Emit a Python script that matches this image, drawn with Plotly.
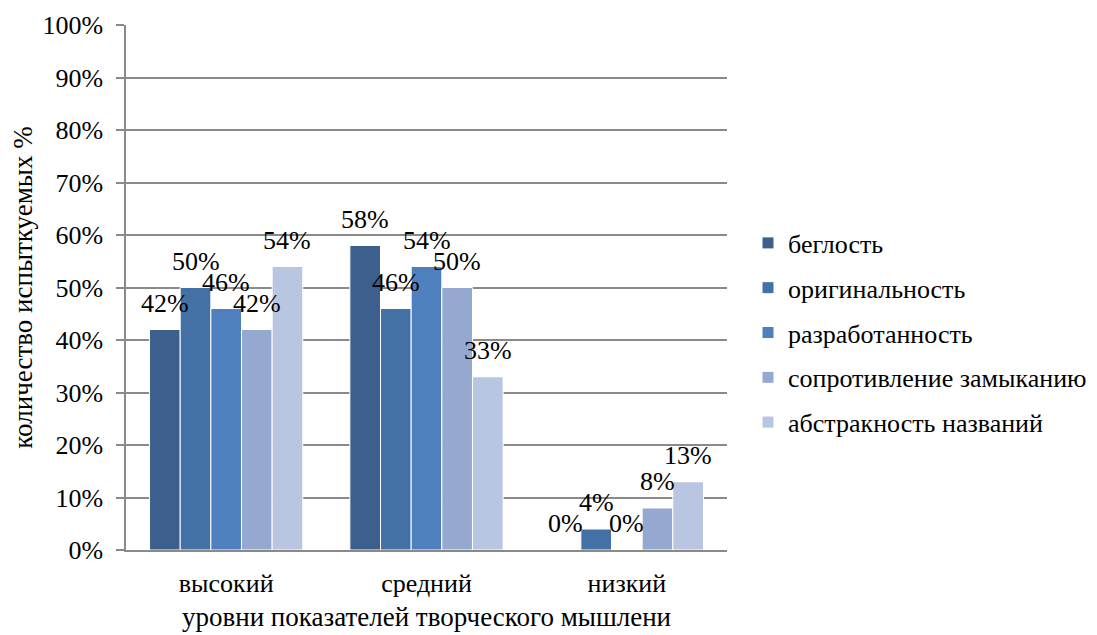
import plotly.graph_objects as go

categories = ["высокий", "средний", "низкий"]
series_names = ["беглость", "оригинальность", "разработанность",
                "сопротивление замыканию", "абстракность названий"]
values_beglost = [42, 58, 0]
values_original = [50, 46, 4]
values_razrab = [46, 54, 0]
values_soprot = [42, 50, 8]
values_abstr = [54, 33, 13]
y_ticks = [0, 10, 20, 30, 40, 50, 60, 70, 80, 90, 100]

series_values = [values_beglost, values_original, values_razrab, values_soprot, values_abstr]
colors = ["#3C5F8D", "#4371A6", "#4E80BD", "#95A9D0", "#B9C6E1"]

FONT = "Liberation Serif"
FS = 26
FS_TITLE = 27

# page body has an 8px margin, so figure coords = screen coords - 8
L, T = 118, 17
RIGHT, BOTTOM = 719, 542
W, H = 1097, 635
R, B = W - RIGHT, H - BOTTOM
plot_w = RIGHT - L
plot_h = BOTTOM - T
bargap = 0.235
n = len(series_names)
bar_w = plot_w / len(categories) * (1 - bargap) / n

fig = go.Figure()
for i, (name, vals) in enumerate(zip(series_names, series_values)):
    fig.add_trace(go.Bar(
        x=categories, y=vals, name=name,
        marker=dict(color=colors[i], line=dict(color="white", width=1)),
        legendgroup=name,
    ))

annotations = []
for i, vals in enumerate(series_values):
    for c, v in zip(categories, vals):
        annotations.append(dict(
            x=c, y=v, xref="x", yref="y", text=f"{v}%", showarrow=False,
            xanchor="center", yanchor="bottom",
            xshift=(i - (n - 1) / 2) * bar_w, yshift=10,
            font=dict(family=FONT, size=FS, color="black"),
        ))

fig.update_layout(
    width=W, height=H,
    margin=dict(l=L, r=R, t=T, b=B, autoexpand=False),
    paper_bgcolor="white", plot_bgcolor="white",
    barmode="group", bargap=bargap, bargroupgap=0,
    font=dict(family=FONT, size=FS, color="black"),
    annotations=annotations,
    legend=dict(
        x=(740 - L) / plot_w, xanchor="left",
        y=(BOTTOM - 325) / plot_h, yanchor="middle",
        font=dict(family=FONT, size=FS, color="black"),
        tracegroupgap=8, itemwidth=30,
        bgcolor="rgba(0,0,0,0)",
    ),
    showlegend=True,
)

fig.update_yaxes(
    range=[0, 100], tickvals=y_ticks, ticktext=[f"{t}%" for t in y_ticks],
    showgrid=True, gridcolor="#8A8A8A", gridwidth=1.5,
    showline=True, linecolor="#8A8A8A", linewidth=1.5,
    ticks="outside", ticklen=8, tickcolor="#8A8A8A", tickwidth=1.5,
    ticklabelstandoff=8,
    zeroline=False,
    title=dict(text="количество испыткуемых %", standoff=14,
               font=dict(family=FONT, size=FS_TITLE)),
    tickfont=dict(family=FONT, size=FS),
)
fig.update_xaxes(
    showline=True, linecolor="#8A8A8A", linewidth=1.5,
    ticks="", ticklabelstandoff=9,
    title=dict(text="уровни показателей творческого мышлени", standoff=10,
               font=dict(family=FONT, size=FS_TITLE)),
    tickfont=dict(family=FONT, size=FS),
)

fig.write_html("out.html")
